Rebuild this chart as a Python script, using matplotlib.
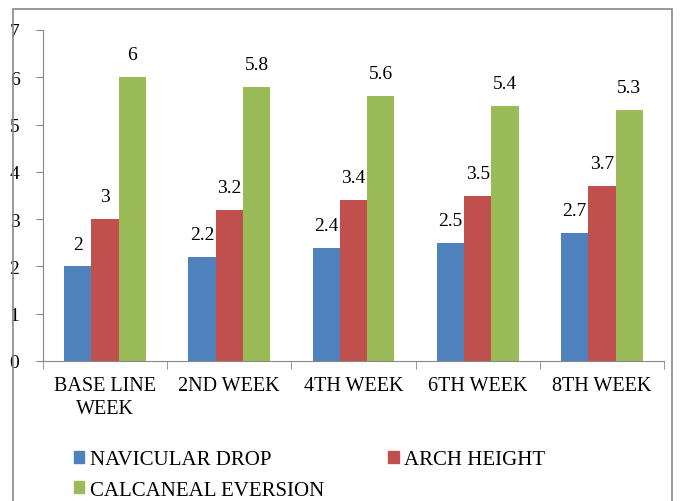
import matplotlib
matplotlib.use("Agg")
import matplotlib.pyplot as plt
import numpy as np
from matplotlib.patches import Rectangle, Patch

categories = ["BASE LINE\nWEEK", "2ND WEEK", "4TH WEEK", "6TH WEEK", "8TH WEEK"]
series_names = ["NAVICULAR DROP", "ARCH HEIGHT", "CALCANEAL EVERSION"]
navicular_drop = [2, 2.2, 2.4, 2.5, 2.7]
arch_height = [3, 3.2, 3.4, 3.5, 3.7]
calcaneal_eversion = [6, 5.8, 5.6, 5.4, 5.3]
colors = ["#4F81BD", "#C0504D", "#9BBB59"]

plt.rcParams['font.family'] = ['Liberation Serif', 'DejaVu Serif']

fig = plt.figure(figsize=(6.91, 5.02), dpi=100)
ax = fig.add_axes([43/691, 140/502, (664-43)/691, (362-31)/502])

x = np.arange(len(categories))
w = 0.22
handles = []
for i, (vals, c, name) in enumerate(zip([navicular_drop, arch_height, calcaneal_eversion], colors, series_names)):
    bars = ax.bar(x + (i-1)*w, vals, width=w, color=c, label=name)
    for b, v in zip(bars, vals):
        ax.annotate(f"{v:g}", (b.get_x()+b.get_width()/2, v), xytext=(0, 10),
                    textcoords="offset points", ha="center", va="bottom", fontsize=14)
    handles.append(Patch(color=c, label=name))

ax.set_xlim(-0.5, len(categories)-0.5)
ax.set_ylim(0, 7)
ax.set_yticks(range(0, 8))
ax.set_xticks(x)
ax.set_xticklabels(categories, fontsize=14.5, linespacing=1.3)
ax.set_xticks(np.arange(-0.5, len(categories), 1), minor=True)
ax.tick_params(axis='x', which='major', length=0, pad=11)
ax.tick_params(axis='x', which='minor', length=6, color='#888888', direction='out')
ax.tick_params(axis='y', length=5, color='#888888', labelsize=14, pad=12)
for s in ['top', 'right']:
    ax.spines[s].set_visible(False)
for s in ['left', 'bottom']:
    ax.spines[s].set_color('#888888')

leg_handles = [handles[0], handles[2], handles[1]]
fig.legend(handles=leg_handles, ncol=2, loc='lower left', bbox_to_anchor=(0.08, -0.035),
           frameon=False, fontsize=15, handlelength=0.5, handleheight=0.5,
           handletextpad=0.25, columnspacing=3.1, labelspacing=0.55)

fig.patches.append(Rectangle((13/691, -0.01), (672-13)/691, (502-10)/502 + 0.01,
                             transform=fig.transFigure, fill=False, edgecolor='#888888', lw=1.2))

fig.savefig("out.png", dpi=100)
